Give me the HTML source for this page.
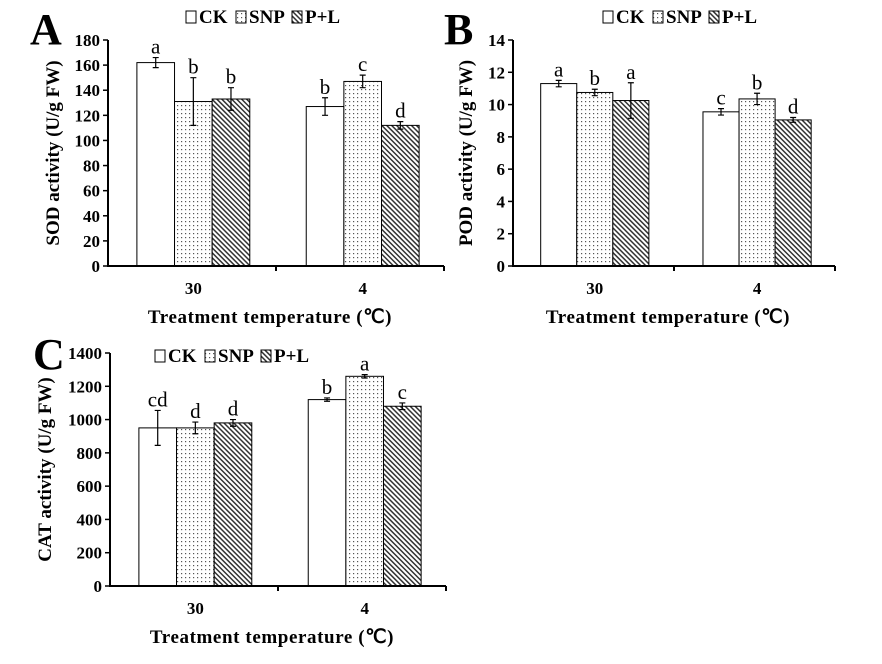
<!DOCTYPE html>
<html><head><meta charset="utf-8"><style>
html,body{margin:0;padding:0;background:#fff;}
svg{display:block;font-family:"Liberation Serif",serif;}
.tk{font-size:17px;font-weight:bold;}
.tt{font-size:19px;font-weight:bold;}
.xt{font-size:19px;font-weight:bold;letter-spacing:0.6px;}
.lt{font-size:21px;}
.lg{font-size:19px;font-weight:bold;}
.pl{font-size:44px;font-weight:bold;}
</style></head><body>
<svg id="fig" width="882" height="664" viewBox="0 0 882 664">
<defs>
<pattern id="dots" width="4" height="4" patternUnits="userSpaceOnUse"><rect width="4" height="4" fill="#fff"/><rect x="1" y="1" width="1.2" height="1.2" fill="#555"/></pattern>
<pattern id="hatch" width="3.5" height="3.5" patternUnits="userSpaceOnUse" patternTransform="rotate(45)"><rect width="3.5" height="3.5" fill="#fff"/><rect x="0" y="0" width="3.5" height="1.5" fill="#333"/></pattern>
</defs>
</svg>
<script>
const categories=["30","4"];
const seriesNames=["CK","SNP","P+L"];
const sodMeans=[[162,131,133],[127,147,112]];
const sodErr=[[4,19,9],[7,5,3]];
const sodLetters=[["a","b","b"],["b","c","d"]];
const sodTicks=[0,20,40,60,80,100,120,140,160,180];
const podMeans=[[11.3,10.75,10.25],[9.55,10.35,9.05]];
const podErr=[[0.2,0.2,1.1],[0.2,0.35,0.15]];
const podLetters=[["a","b","a"],["c","b","d"]];
const podTicks=[0,2,4,6,8,10,12,14];
const catMeans=[[950,950,980],[1120,1260,1080]];
const catErr=[[105,35,20],[10,10,20]];
const catLetters=[["cd","d","d"],["b","a","c"]];
const catTicks=[0,200,400,600,800,1000,1200,1400];

const NS="http://www.w3.org/2000/svg";
const svg=document.getElementById('fig');
function mk(tag,attrs,parent,text){const e=document.createElementNS(NS,tag);for(const k in attrs)e.setAttribute(k,attrs[k]);if(text!==undefined)e.textContent=text;(parent||svg).appendChild(e);return e;}
const fills=["#fff","url(#dots)","url(#hatch)"];

function panel(p){
  const g=mk('g',{});
  
  
  const ymax=p.ticks[p.ticks.length-1];
  const ys=v=>p.y0-(v/ymax)*(p.y0-p.y1);
  const W=p.x1-p.x0;
  const bw=W*0.112;
  const xc=(i)=>p.x0+W*(0.254+0.504*i);
  p.means.forEach((grp,i)=>{grp.forEach((v,j)=>{
    const x=xc(i)+(j-1.5)*bw;
    const r=mk('rect',{x:x,y:ys(v),width:bw,height:p.y0-ys(v),fill:fills[j],stroke:'#000','stroke-width':1},g);
    
    
    const cx=x+bw/2,e=p.err[i][j];
    const eb=mk('path',{d:`M${cx},${ys(v+e)}V${ys(v-e)}M${cx-3},${ys(v+e)}h6M${cx-3},${ys(v-e)}h6`,stroke:'#000','stroke-width':1.2,fill:'none'},g);
    
    
    const t=mk('text',{x:cx,y:ys(v+e)-4,'text-anchor':'middle',class:'lt'},g,p.letters[i][j]);
    
    
  });});
  const ax=mk('path',{d:`M${p.x0},${p.y1}V${p.y0}H${p.x1}M${p.x0+W/2},${p.y0}v5M${p.x1},${p.y0}v5`,stroke:'#000','stroke-width':2,fill:'none'},g);
  
  
  p.ticks.forEach(t=>{
    mk('line',{x1:p.x0-5,x2:p.x0,y1:ys(t),y2:ys(t),stroke:'#000','stroke-width':1.5},g);
    const l=mk('text',{x:p.x0-8,y:ys(t)+6,'text-anchor':'end',class:'tk'},g,t);
    
    
  });
  categories.forEach((c,i)=>{
    const l=mk('text',{x:xc(i),y:p.y0+28,'text-anchor':'middle',class:'tk'},g,c);
    
    
  });
  const xt=mk('text',{x:p.x0+W/2-6,y:p.y0+57,'text-anchor':'middle',class:'xt'},g,'Treatment  temperature (℃)');
  
  
  const yc=(p.y0+p.y1)/2;
  const yt=mk('text',{x:p.ytx,y:yc,'text-anchor':'middle',class:'tt',transform:`rotate(-90 ${p.ytx} ${yc})`},g,p.ytitle);
  
  
  const pl=mk('text',{x:p.lx,y:p.ly,class:'pl'},g,p.letter);
  
  
  let lx=p.legx;
  seriesNames.forEach((s,j)=>{
    const r=mk('rect',{x:lx,y:p.legy-12,width:10,height:12,fill:fills[j],stroke:'#000','stroke-width':1},g);
    
    
    const t=mk('text',{x:lx+13,y:p.legy,class:'lg'},g,s);
    
    
    lx+=[50,56,0][j];
  });
}
panel({name:'sod',x0:108,x1:444,y0:266,y1:40,ticks:sodTicks,means:sodMeans,err:sodErr,letters:sodLetters,ytitle:'SOD activity (U/g FW)',ytx:59,lx:30,ly:44,letter:'A',legx:186,legy:23});
panel({name:'pod',x0:513,x1:835,y0:266,y1:40,ticks:podTicks,means:podMeans,err:podErr,letters:podLetters,ytitle:'POD activity (U/g FW)',ytx:472,lx:444,ly:44,letter:'B',legx:603,legy:23});
panel({name:'cat',x0:110,x1:446,y0:586,y1:353,ticks:catTicks,means:catMeans,err:catErr,letters:catLetters,ytitle:'CAT activity (U/g FW)',ytx:51,lx:33,ly:369,letter:'C',legx:155,legy:362});
</script>
</body></html>
